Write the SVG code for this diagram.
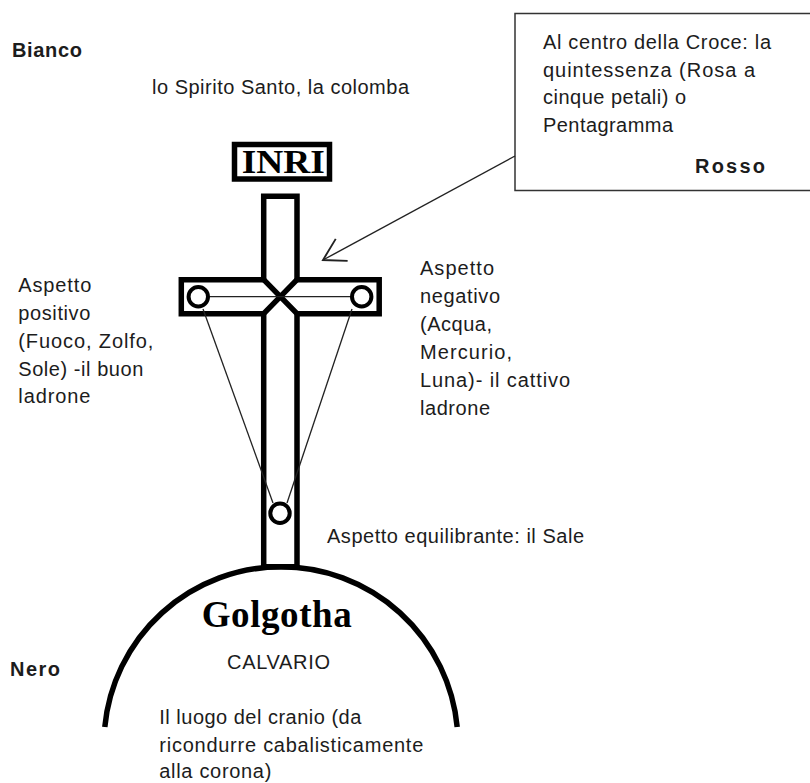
<svg xmlns="http://www.w3.org/2000/svg" width="810" height="783" viewBox="0 0 810 783">
<style>
.t{font-family:"Liberation Sans",Arial,sans-serif;font-size:20px;fill:#1c1c1c}
.b{font-weight:bold}
.s{font-family:"Liberation Serif","Times New Roman",serif;font-weight:bold;fill:#000}
.thick{fill:none;stroke:#000;stroke-width:5.5}
.thin{fill:none;stroke:#222;stroke-width:1.3}
.ring{fill:#fff;stroke:#000;stroke-width:4}
</style>
<defs>
<marker id="arr" markerUnits="userSpaceOnUse" markerWidth="30" markerHeight="30" viewBox="-20 -12 22 24" refX="0" refY="0" orient="auto">
<path d="M-17,-10 L0,0 L-17,10" fill="none" stroke="#222" stroke-width="1.5"/>
</marker>
</defs>
<rect width="810" height="783" fill="#fff"/>

<g id="labels-colors">
<text class="t b" x="12" y="57" textLength="70">Bianco</text>
<text class="t b" x="10" y="676" textLength="50">Nero</text>
</g>

<g id="spirito">
<text class="t" x="152" y="94" textLength="257">lo Spirito Santo, la colomba</text>
</g>

<g id="quintessenza-box">
<rect x="515" y="13.5" width="310" height="177" fill="#fff" stroke="#333" stroke-width="1.5"/>
<text class="t" x="543" y="49" textLength="228">Al centro della Croce: la</text>
<text class="t" x="543" y="77" textLength="212">quintessenza (Rosa a</text>
<text class="t" x="543" y="104" textLength="143">cinque petali) o</text>
<text class="t" x="543" y="132" textLength="130">Pentagramma</text>
<text class="t b" x="695" y="173" textLength="70">Rosso</text>
</g>

<g id="inri">
<rect class="thick" x="234.5" y="144.5" width="95" height="34.5"/>
<text class="s" x="241.7" y="173" font-size="34" textLength="83" lengthAdjust="spacingAndGlyphs">INRI</text>
</g>

<g id="croce">
<path class="thick" d="M263.7,279.7 L263.7,196.3 L297,196.3 L297,279.7 L379.2,279.7 L379.2,313.7 L297,313.7 L297,566.7 L263.7,566.7 L263.7,313.7 L181.3,313.7 L181.3,279.7 Z"/>
<path class="thick" d="M263.7,279.7 L297,313.7 M297,279.7 L263.7,313.7"/>
</g>

<g id="connectors">
<line class="thin" x1="198.3" y1="296.7" x2="361.7" y2="296.7"/>
<line class="thin" x1="203" y1="309" x2="273" y2="503"/>
<line class="thin" x1="352" y1="309" x2="287" y2="503"/>
<line x1="515" y1="156" x2="323" y2="260" stroke="#222" stroke-width="1.4" marker-end="url(#arr)"/>
</g>

<g id="sole-zolfo">
<circle class="ring" cx="198.3" cy="296.7" r="9.7"/>
</g>
<g id="luna-mercurio">
<circle class="ring" cx="361.7" cy="296.7" r="9.7"/>
</g>
<g id="sale">
<circle class="ring" cx="280" cy="513.3" r="9.7"/>
<text class="t" x="327" y="543" textLength="257">Aspetto equilibrante: il Sale</text>
</g>

<g id="positivo">
<text class="t" x="18.3" y="292" textLength="73">Aspetto</text>
<text class="t" x="18.3" y="320" textLength="72">positivo</text>
<text class="t" x="18.3" y="347.5" textLength="135">(Fuoco, Zolfo,</text>
<text class="t" x="18.3" y="375.5" textLength="125">Sole) -il buon</text>
<text class="t" x="18.3" y="403" textLength="72">ladrone</text>
</g>

<g id="negativo">
<text class="t" x="420" y="275" textLength="74">Aspetto</text>
<text class="t" x="420" y="303" textLength="80">negativo</text>
<text class="t" x="420" y="331" textLength="72">(Acqua,</text>
<text class="t" x="420" y="359" textLength="92">Mercurio,</text>
<text class="t" x="420" y="387" textLength="150">Luna)- il cattivo</text>
<text class="t" x="420" y="415" textLength="70">ladrone</text>
</g>

<g id="golgotha">
<path class="thick" d="M104.8,727 A177,177 0 0 1 457.2,727"/>
<text class="s" x="201.7" y="626.7" font-size="37" textLength="150">Golgotha</text>
<text class="t" x="227" y="668.5" textLength="103">CALVARIO</text>
<text class="t" x="159.3" y="723.5" textLength="202">Il luogo del cranio (da</text>
<text class="t" x="159.3" y="751.5" textLength="264">ricondurre cabalisticamente</text>
<text class="t" x="159.3" y="778" textLength="112">alla corona)</text>
</g>
</svg>
